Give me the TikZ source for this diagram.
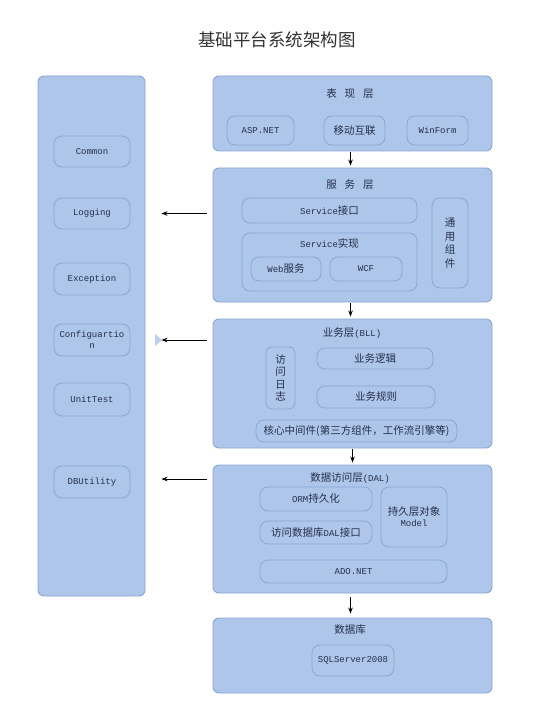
\documentclass[tikz,border=0pt]{standalone}
\usepackage{fontspec}
\setmainfont{Liberation Mono}
\newfontfamily\cjk{Noto Sans CJK SC}
\usetikzlibrary{arrows.meta}
\definecolor{fillc}{HTML}{ADC6EA}
\definecolor{bordc}{HTML}{8AA6D3}
\definecolor{txtc}{HTML}{26304A}
\definecolor{tric}{HTML}{B9D0F2}
\tikzset{
  layer/.style={draw=bordc, fill=fillc, rounded corners=6pt, line width=0.9pt, inner sep=0pt},
  sub/.style={draw=bordc, fill=fillc, rounded corners=8pt, line width=0.8pt, inner sep=0pt,
    align=center, text=txtc, font=\fontsize{9}{11}\selectfont},
  ttl/.style={text=txtc, font=\fontsize{9}{11}\selectfont, inner sep=0pt},
  arr/.style={-{Stealth[length=6pt,width=4.5pt]}, line width=0.8pt, black},
}
\begin{document}
\begin{tikzpicture}[x=1pt,y=-1pt]
\useasboundingbox (0,0) rectangle (556,714);
\fill[white] (0,0) rectangle (556,714);
% title
\node[text=black!80, font=\cjk\fontsize{17.5}{20}\selectfont, inner sep=0pt] (title) at (277,40) {基础平台系统架构图};
% left panel
\node[layer, minimum width=107, minimum height=520] (panel) at (91.5,336) {};
\node[sub, minimum width=76, minimum height=31] (common) at (92,151.5) {Common};
\node[sub, minimum width=76, minimum height=31] (logging) at (92,213.5) {Logging};
\node[sub, minimum width=76, minimum height=32] (exception) at (92,279) {Exception};
\node[sub, minimum width=76, minimum height=32] (config) at (92,340) {Configuartio\\n};
\node[sub, minimum width=76, minimum height=33] (unittest) at (92,399.5) {UnitTest};
\node[sub, minimum width=76, minimum height=32] (dbutil) at (92,482) {DBUtility};
% layer 1
\node[layer, minimum width=279, minimum height=75] (l1) at (352.5,113.5) {};
\node[ttl, font=\cjk\fontsize{10.5}{12}\selectfont] (l1t) at (350,94) {表\hspace{8pt}现\hspace{8pt}层};
\node[sub, minimum width=67, minimum height=29] (asp) at (260.5,130.5) {ASP.NET};
\node[sub, minimum width=61, minimum height=29, font=\cjk\fontsize{10.5}{12}\selectfont] (mobile) at (354.5,130.5) {移动互联};
\node[sub, minimum width=61, minimum height=29] (winform) at (437.5,130.5) {WinForm};
% layer 2
\node[layer, minimum width=279, minimum height=134] (l2) at (352.5,235) {};
\node[ttl, font=\cjk\fontsize{10.5}{12}\selectfont] (l2t) at (350,185) {服\hspace{8pt}务\hspace{8pt}层};
\node[sub, minimum width=175, minimum height=25] (sif) at (329.5,210.5) {Service{\cjk\fontsize{10.5}{12}\selectfont 接口}};
\node[sub, minimum width=175, minimum height=58] (simpl) at (329.5,262) {};
\node[ttl] (simplt) at (329.5,243) {Service{\cjk\fontsize{10.5}{12}\selectfont 实现}};
\node[sub, minimum width=70, minimum height=24] (web) at (286,269) {Web{\cjk\fontsize{10.5}{12}\selectfont 服务}};
\node[sub, minimum width=72, minimum height=24] (wcf) at (366,269) {WCF};
\node[sub, minimum width=36, minimum height=90, font=\cjk\fontsize{10.5}{13.5}\selectfont] (common2) at (450,243) {通\\用\\组\\件};
% layer 3
\node[layer, minimum width=279, minimum height=129] (l3) at (352.5,383.5) {};
\node[ttl] (l3t) at (352,333) {{\cjk\fontsize{10.5}{12}\selectfont 业务层}(BLL)};
\node[sub, rounded corners=6pt, minimum width=29, minimum height=62, font=\cjk\fontsize{10.5}{12.5}\selectfont] (log2) at (280.5,378) {访\\问\\日\\志};
\node[sub, minimum width=116, minimum height=21, font=\cjk\fontsize{10.5}{12}\selectfont] (logic) at (375,358.5) {业务逻辑};
\node[sub, minimum width=118, minimum height=22, font=\cjk\fontsize{10.5}{12}\selectfont] (rule) at (376,397) {业务规则};
\node[sub, minimum width=201, minimum height=22, font=\cjk\fontsize{10.5}{12}\selectfont] (core) at (356.5,431) {核心中间件(第三方组件，工作流引擎等)};
% layer 4
\node[layer, minimum width=279, minimum height=128] (l4) at (352.5,529) {};
\node[ttl] (l4t) at (350,478) {{\cjk\fontsize{10.5}{12}\selectfont 数据访问层}(DAL)};
\node[sub, minimum width=112, minimum height=24] (orm) at (316,499) {ORM{\cjk\fontsize{10.5}{12}\selectfont 持久化}};
\node[sub, minimum width=112, minimum height=23] (dal) at (316,532.5) {{\cjk\fontsize{10.5}{12}\selectfont 访问数据库}DAL{\cjk\fontsize{10.5}{12}\selectfont 接口}};
\node[sub, minimum width=66, minimum height=60] (model) at (414,517) {{\cjk\fontsize{10.5}{12}\selectfont 持久层对象}\\Model};
\node[sub, minimum width=187, minimum height=23] (ado) at (353.5,571.5) {ADO.NET};
% layer 5
\node[layer, minimum width=279, minimum height=75] (l5) at (352.5,655.5) {};
\node[ttl, font=\cjk\fontsize{10.5}{12}\selectfont] (l5t) at (350,630) {数据库};
\node[sub, minimum width=82, minimum height=31] (sql) at (353,660.5) {SQLServer2008};
% vertical arrows
\draw[arr, shorten <=1pt, shorten >=2pt] ([xshift=-2pt]l1.south) -- ([xshift=-2pt]l2.north);
\draw[arr, shorten <=1pt, shorten >=2pt] ([xshift=-2pt]l2.south) -- ([xshift=-2pt]l3.north);
\draw[arr, shorten <=1pt, shorten >=2pt] (l3.south) -- (l4.north);
\draw[arr, shorten <=4pt, shorten >=4pt] ([xshift=-2pt]l4.south) -- ([xshift=-2pt]l5.north);
% horizontal arrows
\draw[arr, shorten <=6pt, shorten >=16pt] (l2.west |- logging) -- (panel.east |- logging);
\draw[arr, shorten <=6pt, shorten >=16pt] (l3.west |- config) -- (panel.east |- config);
\draw[arr, shorten <=6pt, shorten >=16pt] ([yshift=3pt]l4.west |- dbutil) -- ([yshift=3pt]panel.east |- dbutil);
% small triangle artifact
\coordinate (tri) at (155,340);
\fill[tric] ([yshift=-6pt]tri) -- ([xshift=7pt]tri) -- ([yshift=6pt]tri) -- cycle;
\end{tikzpicture}
\end{document}
